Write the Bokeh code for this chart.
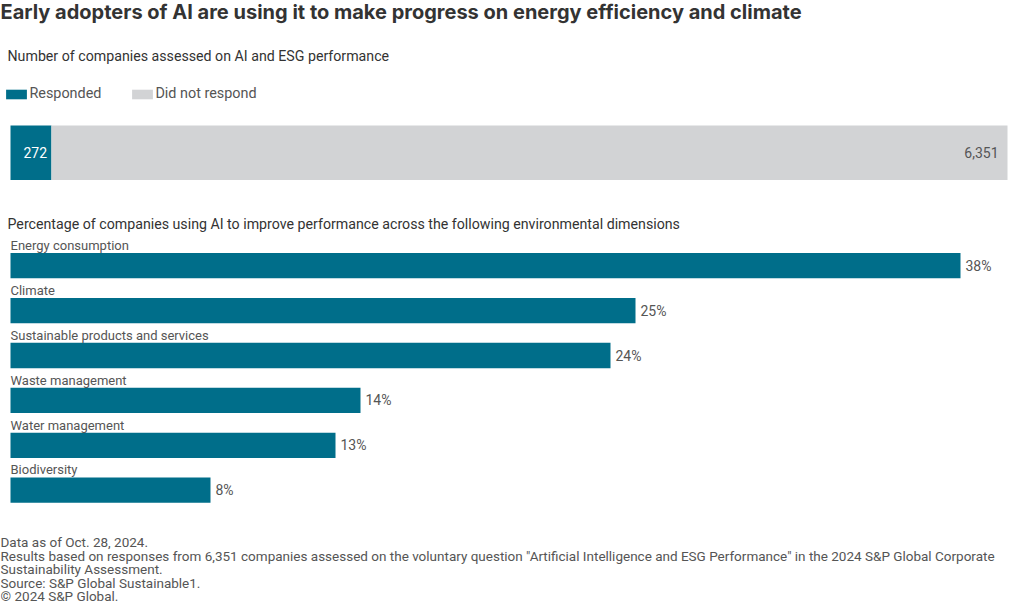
from bokeh.plotting import figure
from bokeh.models import ColumnDataSource, Range1d, Label, Legend, LegendItem
from bokeh.core.properties import value
from bokeh.embed import file_html
from bokeh.resources import INLINE

# ---------------- data ----------------
title_text = "Early adopters of AI are using it to make progress on energy efficiency and climate"
subtitle_top = "Number of companies assessed on AI and ESG performance"
subtitle_bottom = ("Percentage of companies using AI to improve performance across "
                   "the following environmental dimensions")
status_names = ["Responded", "Did not respond"]
status_counts = [272, 6351]
status_labels = ["272", "6,351"]
dimensions = ["Energy consumption", "Climate", "Sustainable products and services",
              "Waste management", "Water management", "Biodiversity"]
shares = [38, 25, 24, 14, 13, 8]
share_labels = ["38%", "25%", "24%", "14%", "13%", "8%"]
footnotes = [
    "Data as of Oct. 28, 2024.",
    "Results based on responses from 6,351 companies assessed on the voluntary question "
    "\"Artificial Intelligence and ESG Performance\" in the 2024 S&P Global Corporate",
    "Sustainability Assessment.",
    "Source: S&P Global Sustainable1.",
    "\u00a9 2024 S&P Global.",
]

# ---------------- styling / layout ----------------
W, H = 1020, 614
BLUE = "#006e8a"
GREY = "#d2d3d5"
DARK = "#333333"
MID = "#555555"
FONT = "Roboto"
TITLE_FONT = "Inter"

BAR_X0 = 10           # pixel where bars start
PX_PER_PCT = 25.0     # percent scale
TOP_BAR_PX = 997.0    # width of stacked bar in pixels

total = sum(status_counts)
npx = total / TOP_BAR_PX

p = figure(width=W, height=H, output_backend="svg", toolbar_location=None,
           min_border=0, x_axis_location=None, y_axis_location=None,
           x_range=Range1d(-BAR_X0 / PX_PER_PCT, (W - BAR_X0) / PX_PER_PCT),
           y_range=Range1d(H, 0))
p.extra_x_ranges = {"n": Range1d(-BAR_X0 * npx, (W - BAR_X0) * npx)}
p.grid.visible = False
p.outline_line_color = None
p.background_fill_color = "white"
p.border_fill_color = "white"

# ---- stacked bar (top) ----
lefts, rights = [], []
acc = 0
for c in status_counts:
    lefts.append(acc)
    acc += c
    rights.append(acc)
top_y = 152.2
TOP_H = 54.5
colors = [BLUE, GREY]
renderers = []
for i in range(len(status_counts)):
    s = ColumnDataSource(dict(y=[top_y], left=[lefts[i]], right=[rights[i]]))
    renderers.append(p.hbar(y="y", left="left", right="right", height=TOP_H,
                            x_range_name="n", fill_color=colors[i], line_color=None,
                            source=s))

p.text(x=[lefts[0]], y=[top_y], text=[status_labels[0]], x_range_name="n",
       x_offset=13, text_align="left", text_baseline="middle",
       text_color="white", text_font=value(FONT), text_font_size="14px")
p.text(x=[rights[1]], y=[top_y], text=[status_labels[1]], x_range_name="n",
       x_offset=-9, text_align="right", text_baseline="middle",
       text_color=MID, text_font=value(FONT), text_font_size="14px")

legend = Legend(items=[LegendItem(label=status_names[0], renderers=[renderers[0]]),
                       LegendItem(label=status_names[1], renderers=[renderers[1]])],
                orientation="horizontal", location=(3.4, 512),
                glyph_width=26, glyph_height=12, label_height=16,
                label_standoff=0, spacing=28, padding=0, margin=0,
                border_line_color=None, background_fill_alpha=0,
                label_text_font=FONT, label_text_font_size="14.4px",
                label_text_color=MID)
p.add_layout(legend, "center")

# ---- percentage bars (bottom) ----
Y0 = 265.2
STEP = 44.9
BAR_H = 25.3
ys = [Y0 + i * STEP for i in range(len(dimensions))]
src = ColumnDataSource(dict(dim=dimensions, share=shares, lab=share_labels, y=ys,
                            ylab=[y - 20.3 for y in ys], zero=[0] * len(ys)))
p.hbar(y="y", left="zero", right="share", height=BAR_H, source=src,
       fill_color=BLUE, line_color=None)
p.text(x="zero", y="ylab", text="dim", source=src, text_align="left",
       text_baseline="middle", text_color=MID, text_font=value(FONT),
       text_font_size="13px")
p.text(x="share", y="y", text="lab", source=src, x_offset=5, text_align="left",
       text_baseline="middle", text_color=MID, text_font=value(FONT),
       text_font_size="14px")

# ---- titles and notes ----
p.add_layout(Label(x=0, y=11.5, x_units="screen", text=title_text,
                   text_font=TITLE_FONT, text_font_size="20px", text_font_style="bold",
                   text_color=DARK, text_baseline="middle"))
p.add_layout(Label(x=7, y=55, x_units="screen", text=subtitle_top,
                   text_font=FONT, text_font_size="14.2px",
                   text_color=DARK, text_baseline="middle"))
p.add_layout(Label(x=7, y=223.5, x_units="screen", text=subtitle_bottom,
                   text_font=FONT, text_font_size="14.2px",
                   text_color=DARK, text_baseline="middle"))
for i, line in enumerate(footnotes):
    p.add_layout(Label(x=0, y=541.5 + i * 13.5, x_units="screen", text=line,
                       text_font=FONT, text_font_size="13.5px",
                       text_color=MID, text_baseline="middle"))

open("out.html", "w").write(file_html(p, INLINE))
